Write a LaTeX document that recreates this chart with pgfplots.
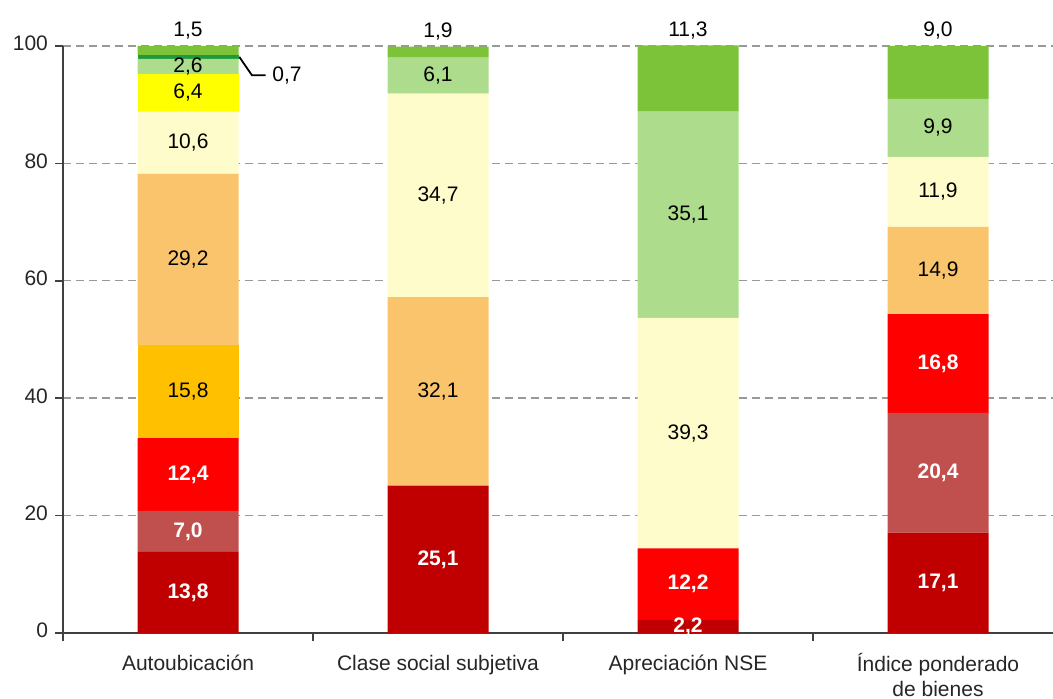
\documentclass[border=0pt]{standalone}
\usepackage{pgfplots}
\pgfplotsset{compat=1.18}
\usepackage{fontspec}
\setmainfont{Liberation Sans}
\definecolor{cA}{HTML}{C00000}
\definecolor{cB}{HTML}{C0504D}
\definecolor{cC}{HTML}{FF0000}
\definecolor{cD}{HTML}{FFC000}
\definecolor{cE}{HTML}{FAC46C}
\definecolor{cF}{HTML}{FFFCCC}
\definecolor{cG}{HTML}{FFFF00}
\definecolor{cH}{HTML}{ADDC8C}
\definecolor{cI}{HTML}{1E9A3C}
\definecolor{cJ}{HTML}{7DC33A}
\newcommand{\lblfont}{\fontsize{10.5}{12.5}\selectfont}
\newcommand{\num}{\pgfmathfloatifflags{\pgfplotspointmeta}{0}{}{\pgfmathprintnumber[fixed,fixed zerofill,precision=1,use comma]{\pgfplotspointmeta}}}
\begin{document}
\begin{tikzpicture}
\begin{axis}[
  scale only axis, width=500pt, height=293.5pt,
  ybar stacked, bar width=50.5pt,
  xmin=-0.5, xmax=3.5, ymin=0, ymax=100, clip=false,
  axis x line*=bottom, axis y line*=left,
  axis line style={black!75, line width=0.8pt},
  xtick={-0.5,0.5,1.5,2.5,3.5},
  x tick label as interval,
  xticklabels={Autoubicación, Clase social subjetiva, Apreciación NSE, {Índice ponderado\\de bienes}},
  xticklabel style={align=center, font=\lblfont, text=black!85, yshift=-2.5pt},
  typeset ticklabels with strut,
  ytick={0,20,...,100},
  yticklabel style={font=\lblfont, text=black!85},
  /pgf/number format/assume math mode=true,
  tick align=outside, major tick length=4pt,
  tick style={black!75, line width=0.8pt},
  ymajorgrids, grid style={gray!80, line width=0.7pt, dash pattern=on 4pt off 2.5pt},
  every axis plot/.append style={draw=none},
  visualization depends on={rawy \as \rawy},
  every node near coord/.style={anchor=center, font=\lblfont},
]
\addplot[fill=cA, nodes near coords={\color{white}\bfseries\num}] coordinates {(0,13.8) (1,25.1) (2,2.2) (3,17.1)};
\addplot[fill=cB, nodes near coords={\color{white}\bfseries\num}] coordinates {(0,7.0) (1,0) (2,0) (3,20.4)};
\addplot[fill=cC, nodes near coords={\color{white}\bfseries\num}] coordinates {(0,12.4) (1,0) (2,12.2) (3,16.8)};
\addplot[fill=cD, nodes near coords={\num}] coordinates {(0,15.8) (1,0) (2,0) (3,0)};
\addplot[fill=cE, nodes near coords={\num}] coordinates {(0,29.2) (1,32.1) (2,0) (3,14.9)};
\addplot[fill=cF, nodes near coords={\num}] coordinates {(0,10.6) (1,34.7) (2,39.3) (3,11.9)};
\addplot[fill=cG, nodes near coords={\num}] coordinates {(0,6.4) (1,0) (2,0) (3,0)};
\addplot[fill=cH, nodes near coords={\num}] coordinates {(0,2.6) (1,6.1) (2,35.1) (3,9.9)};
\addplot[fill=cI] coordinates {(0,0.7) (1,0) (2,0) (3,0)};
\addplot[fill=cJ, nodes near coords={\num}, every node near coord/.style={anchor=south, font=\lblfont, inner sep=3pt, shift={(axis direction cs:0,\rawy/2)}}]
  coordinates {(0,1.5) (1,1.9) (2,11.3) (3,9.0)};
\draw[black, line width=0.9pt] (axis cs:0.205,98.15) -- (axis cs:0.256,95.0) -- (axis cs:0.31,95.0);
\node[anchor=west, font=\lblfont, inner sep=2pt] at (axis cs:0.32,95.0) {0,7};
\coordinate (bl) at (rel axis cs:0,0);
\coordinate (tr) at (rel axis cs:1,1);
\end{axis}
\pgfresetboundingbox
\path ([shift={(-31.5pt,-33pt)}]bl) rectangle ([shift={(-5pt,23pt)}]tr);
\end{tikzpicture}
\end{document}
